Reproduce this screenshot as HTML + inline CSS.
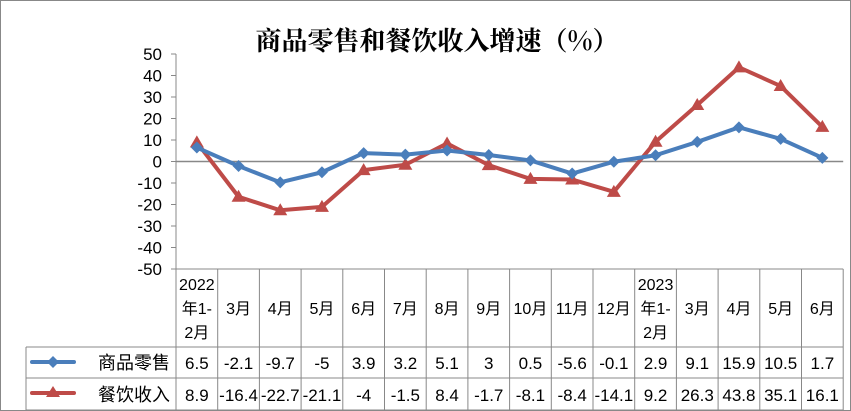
<!DOCTYPE html>
<html><head><meta charset="utf-8"><style>
body{margin:0;background:#fff}
svg{display:block}
text{font-family:"Liberation Sans","Noto Sans CJK SC",sans-serif;fill:#000}
</style></head><body>
<svg width="851" height="411" xmlns="http://www.w3.org/2000/svg">
<rect x="0.5" y="0.5" width="850" height="410" fill="#fff" stroke="#888"/>
<text x="437" y="50" text-anchor="middle" style="font-family:'Noto Serif CJK SC','Noto Sans CJK SC',serif;font-weight:bold;font-size:26px">商品零售和餐饮收入增速（%）</text>
<g id="g"></g>
</svg>
<script>
const NS="http://www.w3.org/2000/svg",g=document.getElementById('g');
function el(t,a,txt){const e=document.createElementNS(NS,t);for(const k in a)e.setAttribute(k,a[k]);if(txt!=null)e.textContent=txt;g.appendChild(e);return e;}
const L=176,W=41.7,N=16,R=L+W*N,y0=161.5,s=2.15;
const Y=v=>y0-v*s,X=i=>L+W*(i+0.5);
for(let v=50;v>=-50;v-=10){el('text',{x:162,y:Y(v)+6,'text-anchor':'end','font-size':17},String(v));el('line',{x1:171,x2:176,y1:Y(v),y2:Y(v),stroke:'#888'});}
el('line',{x1:176,x2:176,y1:Y(50),y2:410,stroke:'#888'});
el('line',{x1:176,x2:R,y1:y0,y2:y0,stroke:'#888','stroke-width':1.5});
el('line',{x1:171,x2:R,y1:269,y2:269,stroke:'#888'});
el('line',{x1:26,x2:R,y1:347,y2:347,stroke:'#888'});
el('line',{x1:26,x2:R,y1:378,y2:378,stroke:'#888'});
el('line',{x1:26,x2:R,y1:410,y2:410,stroke:'#888'});
el('line',{x1:26,x2:26,y1:347,y2:410,stroke:'#888'});
for(let i=0;i<=N;i++)el('line',{x1:L+W*i,x2:L+W*i,y1:269,y2:410,stroke:'#888'});
const cats=[['2022','年1-','2月'],['3月'],['4月'],['5月'],['6月'],['7月'],['8月'],['9月'],['10月'],['11月'],['12月'],['2023','年1-','2月'],['3月'],['4月'],['5月'],['6月']];
cats.forEach((c,i)=>{if(c.length==3)c.forEach((t,j)=>el('text',{x:X(i),y:290+j*24,'text-anchor':'middle','font-size':16},t));else el('text',{x:X(i),y:314,'text-anchor':'middle','font-size':16},c[0]);});
const a=[6.5,-2.1,-9.7,-5,3.9,3.2,5.1,3,0.5,-5.6,-0.1,2.9,9.1,15.9,10.5,1.7];
const b=[8.9,-16.4,-22.7,-21.1,-4,-1.5,8.4,-1.7,-8.1,-8.4,-14.1,9.2,26.3,43.8,35.1,16.1];
a.forEach((v,i)=>el('text',{x:X(i),y:369,'text-anchor':'middle','font-size':17},String(v)));
b.forEach((v,i)=>el('text',{x:X(i),y:401,'text-anchor':'middle','font-size':17},String(v)));
el('text',{x:170,y:369,'text-anchor':'end','font-size':18,fill:'#333'},'商品零售');
el('text',{x:170,y:401,'text-anchor':'end','font-size':18,fill:'#333'},'餐饮收入');
el('line',{x1:32,x2:74,y1:362,y2:362,stroke:'#4a7ebb','stroke-width':4,'stroke-linecap':'round'});
el('polygon',{points:'53,356 59,362 53,368 47,362',fill:'#4a7ebb'});
el('line',{x1:32,x2:74,y1:393,y2:393,stroke:'#be4b48','stroke-width':4,'stroke-linecap':'round'});
el('polygon',{points:'53,386 60,397 46,397',fill:'#be4b48'});
el('polyline',{points:b.map((v,i)=>X(i)+','+Y(v)).join(' '),fill:'none',stroke:'#be4b48','stroke-width':4,'stroke-linejoin':'round'});
b.forEach((v,i)=>{const x=X(i),y=Y(v);el('polygon',{points:`${x},${y-7} ${x+7},${y+5} ${x-7},${y+5}`,fill:'#be4b48'});});
el('polyline',{points:a.map((v,i)=>X(i)+','+Y(v)).join(' '),fill:'none',stroke:'#4a7ebb','stroke-width':4,'stroke-linejoin':'round'});
a.forEach((v,i)=>{const x=X(i),y=Y(v);el('polygon',{points:`${x},${y-6} ${x+6},${y} ${x},${y+6} ${x-6},${y}`,fill:'#4a7ebb'});});
</script>
</body></html>
